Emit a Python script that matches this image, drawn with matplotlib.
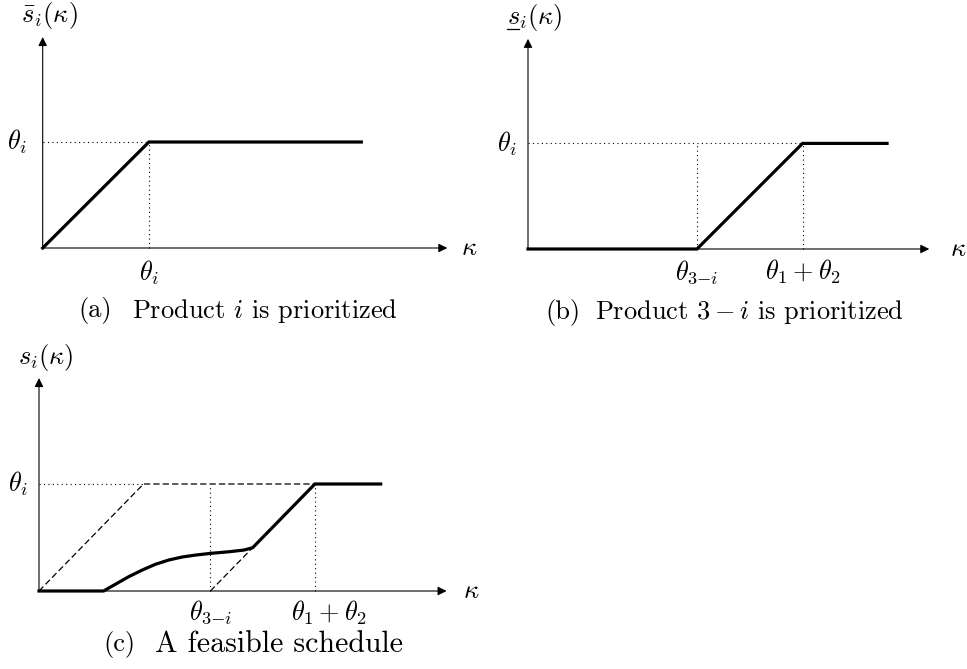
import matplotlib
matplotlib.use("Agg")
import matplotlib.pyplot as plt

plt.rcParams["mathtext.fontset"] = "cm"
plt.rcParams["font.family"] = "serif"
plt.rcParams["font.serif"] = ["cmr10"]
plt.rcParams["axes.unicode_minus"] = False

# model quantities (theta_i = 1)
theta_i = 1.0
theta_a_end = 3.0                 # where the curve in (a) stops
theta_other_b = 1.6               # theta_{3-i} in (b)
theta_b_end = 3.4
theta_other_c = 1.64              # theta_{3-i} in (c)
theta_c_end = 3.27

# feasible schedule in (c): flat, smooth rise, then joins lower bound
kappa_curve = [0.0, 0.618, 0.731, 0.859, 0.988, 1.115, 1.243, 1.372,
               1.500, 1.644, 1.820, 1.964, 2.045]
s_curve = [0.0, 0.0, 0.063, 0.134, 0.196, 0.250, 0.290, 0.318,
           0.336, 0.352, 0.367, 0.383, 0.405]

W, H = 967, 669
fig = plt.figure(figsize=(W / 100, H / 100), dpi=100)

FS = 19
THICK = 2.3
DOT = dict(color="black", lw=0.8, ls=(0, (1, 3)))
DASH = dict(color="black", lw=0.9, ls=(0, (5, 2.5)))


def panel(origin, sx, sy, xlim=(-0.45, 4.3), ylim=(-0.75, 2.35)):
    ox, oy = origin
    left = (ox + xlim[0] * sx) / W
    bottom = (H - oy + ylim[0] * sy) / H
    ax = fig.add_axes([left, bottom, (xlim[1] - xlim[0]) * sx / W,
                       (ylim[1] - ylim[0]) * sy / H])
    ax.set_xlim(*xlim)
    ax.set_ylim(*ylim)
    ax.axis("off")
    return ax


def axes_arrows(ax, xmax, ymax):
    ap = dict(arrowstyle="-|>", color="black", lw=0.8,
              mutation_scale=13, shrinkA=0, shrinkB=0)
    ax.annotate("", xy=(xmax, 0), xytext=(0, 0), arrowprops=ap)
    ax.annotate("", xy=(0, ymax), xytext=(0, 0), arrowprops=ap)


def label(ax, x, y, s, ha="center", size=FS):
    ax.text(x, y, s, fontsize=size, ha=ha, va="center")


def caption(ax, x_tag, x_text, y, tag, text, size=FS):
    label(ax, x_tag, y, tag, ha="left")
    label(ax, x_text, y, text, ha="left", size=size)


# (a) product i prioritized
ax = panel((42.7, 248), 106.2, 106)
axes_arrows(ax, 3.81, 1.99)
ax.plot([0, theta_i], [theta_i, theta_i], **DOT)
ax.plot([theta_i, theta_i], [0, theta_i], **DOT)
ax.plot([0, theta_i, theta_a_end], [0, theta_i, theta_i], color="black",
        lw=THICK, solid_joinstyle="miter")
label(ax, 0.06, 2.19, r"$\bar{s}_i(\kappa)$")
label(ax, -0.24, theta_i, r"$\theta_i$")
label(ax, 4.02, 0, r"$\kappa$")
label(ax, theta_i, -0.23, r"$\theta_i$")
caption(ax, 0.332, 0.841, -0.59, "(a)", r"Product $i$ is prioritized")

# (b) product 3-i prioritized
ax = panel((528, 249), 105.6, 105.6)
axes_arrows(ax, 3.8, 1.99)
sum_b = theta_i + theta_other_b
ax.plot([0, sum_b], [theta_i, theta_i], **DOT)
ax.plot([theta_other_b, theta_other_b], [0, theta_i], **DOT)
ax.plot([sum_b, sum_b], [0, theta_i], **DOT)
ax.plot([0, theta_other_b, sum_b, theta_b_end], [0, 0, theta_i, theta_i],
        color="black", lw=THICK, solid_joinstyle="miter")
label(ax, 0.06, 2.19, r"$s_i(\kappa)$")
ax.plot([-0.2, -0.085], [2.085, 2.085], color="black", lw=0.9)
label(ax, -0.2, theta_i, r"$\theta_i$")
label(ax, 4.07, 0, r"$\kappa$")
label(ax, theta_other_b, -0.22, r"$\theta_{3{-}i}$")
label(ax, sum_b, -0.22, r"$\theta_1+\theta_2$")
caption(ax, 0.161, 0.63, -0.6, "(b)", r"Product $3-i$ is prioritized")

# (c) a feasible schedule between the two bounds
ax = panel((39, 591), 104.5, 107)
axes_arrows(ax, 3.9, 1.99)
sum_c = theta_i + theta_other_c
ax.plot([0, theta_i], [theta_i, theta_i], **DOT)
ax.plot([theta_other_c, theta_other_c], [0, theta_i], **DOT)
ax.plot([sum_c, sum_c], [0, theta_i], **DOT)
ax.plot([0, theta_i, sum_c], [0, theta_i, theta_i], **DASH)
ax.plot([theta_other_c, kappa_curve[-1]], [0, s_curve[-1]], **DASH)
ax.plot(kappa_curve + [sum_c, theta_c_end], s_curve + [theta_i, theta_i],
        color="black", lw=THICK, solid_joinstyle="miter")
label(ax, 0.06, 2.18, r"$s_i(\kappa)$")
label(ax, -0.2, theta_i, r"$\theta_i$")
label(ax, 4.14, 0, r"$\kappa$")
label(ax, theta_other_c, -0.2, r"$\theta_{3{-}i}$")
label(ax, 2.77, -0.2, r"$\theta_1+\theta_2$")
caption(ax, 0.612, 1.110, -0.5, "(c)", "A feasible schedule", size=21.5)

fig.savefig("out.png", dpi=100)
